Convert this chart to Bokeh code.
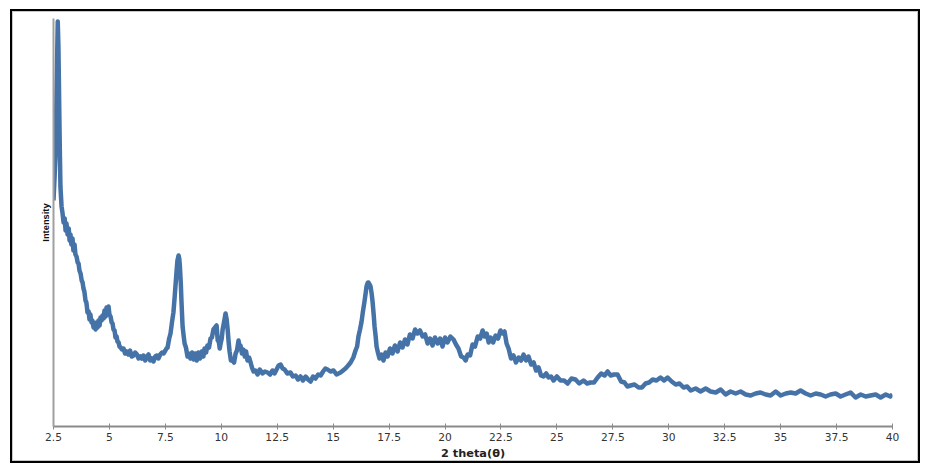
from bokeh.plotting import figure
from bokeh.models import FixedTicker
from bokeh.embed import file_html
from bokeh.resources import INLINE

two_theta = [
    2.50, 2.55, 2.59, 2.64, 2.69, 2.72, 2.75, 2.78, 2.81, 2.86, 2.90, 2.95, 3.00, 3.04, 3.08, 3.13,
    3.18, 3.22, 3.26, 3.30, 3.35, 3.39, 3.44, 3.48, 3.53, 3.58, 3.62, 3.66, 3.71, 3.76, 3.80, 3.84,
    3.88, 3.93, 3.97, 4.02, 4.07, 4.11, 4.15, 4.20, 4.24, 4.29, 4.33, 4.38, 4.42, 4.47, 4.51, 4.56,
    4.60, 4.65, 4.69, 4.74, 4.78, 4.83, 4.87, 4.91, 4.96, 5.00, 5.05, 5.10, 5.14, 5.18, 5.23, 5.27,
    5.32, 5.36, 5.41, 5.45, 5.50, 5.56, 5.63, 5.70, 5.77, 5.85, 5.92, 6.00, 6.08, 6.15, 6.23, 6.30,
    6.38, 6.45, 6.52, 6.60, 6.68, 6.75, 6.82, 6.90, 6.97, 7.05, 7.12, 7.19, 7.27, 7.35, 7.42, 7.50,
    7.55, 7.60, 7.67, 7.73, 7.80, 7.86, 7.91, 7.95, 8.00, 8.04, 8.09, 8.12, 8.15, 8.19, 8.22, 8.27,
    8.31, 8.36, 8.42, 8.49, 8.55, 8.62, 8.69, 8.76, 8.83, 8.90, 8.97, 9.05, 9.12, 9.20, 9.25, 9.32,
    9.38, 9.45, 9.52, 9.58, 9.65, 9.72, 9.79, 9.84, 9.88, 9.93, 9.97, 10.02, 10.06, 10.12, 10.19, 10.24,
    10.28, 10.33, 10.37, 10.43, 10.50, 10.57, 10.64, 10.70, 10.77, 10.82, 10.86, 10.92, 10.99, 11.05, 11.11, 11.17,
    11.24, 11.31, 11.37, 11.44, 11.52, 11.62, 11.72, 11.84, 11.95, 12.07, 12.18, 12.29, 12.38, 12.47, 12.56, 12.65,
    12.74, 12.83, 12.95, 13.09, 13.20, 13.32, 13.43, 13.54, 13.65, 13.77, 13.88, 13.99, 14.10, 14.21, 14.33, 14.44,
    14.55, 14.65, 14.75, 14.88, 15.02, 15.15, 15.33, 15.44, 15.55, 15.67, 15.78, 15.90, 16.00, 16.07, 16.13, 16.20,
    16.27, 16.33, 16.40, 16.45, 16.49, 16.55, 16.58, 16.63, 16.67, 16.72, 16.76, 16.81, 16.85, 16.90, 16.94, 17.00,
    17.07, 17.16, 17.25, 17.34, 17.43, 17.54, 17.65, 17.76, 17.88, 17.99, 18.10, 18.21, 18.32, 18.43, 18.55, 18.66,
    18.77, 18.88, 19.00, 19.11, 19.22, 19.33, 19.44, 19.55, 19.67, 19.78, 19.89, 20.00, 20.11, 20.24, 20.38, 20.49,
    20.60, 20.72, 20.83, 20.92, 21.01, 21.12, 21.23, 21.34, 21.46, 21.57, 21.68, 21.77, 21.86, 21.95, 22.04, 22.15,
    22.26, 22.37, 22.48, 22.57, 22.66, 22.75, 22.84, 22.95, 23.06, 23.17, 23.29, 23.40, 23.51, 23.62, 23.73, 23.85,
    23.96, 24.07, 24.18, 24.29, 24.40, 24.52, 24.63, 24.74, 24.85, 25.00, 25.16, 25.32, 25.48, 25.65, 25.83, 26.00,
    26.19, 26.35, 26.50, 26.66, 26.82, 26.98, 27.13, 27.27, 27.40, 27.55, 27.71, 27.87, 28.02, 28.15, 28.29, 28.47,
    28.65, 28.80, 28.96, 29.12, 29.28, 29.45, 29.63, 29.79, 29.95, 30.13, 30.31, 30.48, 30.66, 30.82, 30.98, 31.20,
    31.42, 31.65, 31.87, 32.10, 32.32, 32.54, 32.76, 32.99, 33.21, 33.44, 33.66, 33.88, 34.10, 34.33, 34.55, 34.78,
    35.00, 35.23, 35.45, 35.67, 35.89, 36.12, 36.34, 36.57, 36.79, 37.01, 37.23, 37.46, 37.68, 37.90, 38.13, 38.35,
    38.58, 38.80, 39.02, 39.25, 39.47, 39.70, 39.90, 40.00,
]

intensity = [
    226, 250, 273, 340, 405, 380, 330, 280, 240, 220, 214, 204, 208, 196, 203, 192,
    198, 186, 192, 182, 188, 176, 182, 172, 170, 164, 163, 156, 153, 146, 144, 138,
    135, 126, 124, 114, 115, 107, 112, 104, 106, 99, 101, 97, 104, 99, 106, 101,
    109, 106, 111, 108, 116, 110, 119, 115, 120, 112, 110, 104, 103, 97, 96, 89,
    90, 85, 84, 80, 79, 77, 78, 73, 75, 72, 76, 70, 71, 74, 72, 68,
    70, 68, 71, 66, 70, 72, 66, 68, 65, 70, 71, 68, 72, 74, 73, 76,
    78, 79, 88, 93, 105, 114, 128, 140, 155, 166, 171, 168, 160, 143, 125, 100,
    92, 83, 79, 70, 73, 68, 74, 67, 73, 66, 74, 68, 75, 70, 78, 74,
    81, 79, 88, 89, 97, 99, 101, 86, 86, 78, 83, 88, 97, 104, 113, 107,
    98, 84, 75, 66, 66, 64, 73, 76, 86, 79, 81, 73, 77, 70, 75, 66,
    69, 64, 59, 55, 56, 52, 57, 53, 55, 54, 52, 56, 53, 57, 61, 62,
    58, 57, 53, 54, 50, 51, 47, 50, 46, 50, 47, 45, 50, 48, 52, 51,
    55, 58, 57, 55, 56, 52, 54, 56, 58, 61, 64, 69, 76, 80, 90, 97,
    105, 115, 125, 133, 140, 144, 144, 142, 140, 133, 125, 112, 100, 90, 80, 74,
    68, 72, 66, 74, 70, 78, 73, 81, 75, 84, 79, 87, 82, 92, 88, 97,
    93, 96, 90, 92, 83, 88, 81, 89, 83, 88, 80, 89, 84, 90, 87, 82,
    78, 70, 69, 66, 72, 71, 82, 80, 90, 88, 96, 90, 93, 84, 89, 84,
    91, 88, 96, 93, 95, 83, 78, 68, 71, 64, 69, 66, 72, 66, 70, 62,
    64, 56, 59, 51, 50, 53, 49, 50, 46, 50, 46, 46, 43, 48, 47, 43,
    46, 43, 44, 44, 49, 53, 51, 55, 51, 52, 52, 45, 44, 40, 41, 42,
    39, 39, 43, 44, 47, 46, 49, 46, 49, 45, 42, 43, 39, 40, 36, 38,
    35, 38, 35, 34, 37, 32, 35, 33, 35, 32, 31, 33, 34, 32, 31, 35,
    31, 33, 34, 33, 36, 33, 31, 33, 32, 30, 32, 33, 30, 32, 34, 29,
    32, 30, 31, 32, 29, 32, 30, 32,
]

tick_values = [2.5, 5, 7.5, 10, 12.5, 15, 17.5, 20, 22.5, 25, 27.5, 30, 32.5, 35, 37.5, 40]
tick_labels = ["2.5", "5", "7.5", "10", "12.5", "15", "17.5", "20", "22.5", "25",
               "27.5", "30", "32.5", "35", "37.5", "40"]

p = figure(width=906, height=450, output_backend="svg", toolbar_location=None,
           x_range=(2.5, 40), y_range=(0, 408),
           min_border_left=40, min_border_right=27, min_border_top=6, min_border_bottom=36)
p.styles = {"margin-left": "12px", "margin-top": "11px",
            "border": "1px solid #c8c8c8", "outline": "2px solid black"}
p.background_fill_color = "white"
p.border_fill_color = "white"
p.outline_line_color = None
p.grid.visible = False

p.line(two_theta, intensity, line_color="#4572A7", line_width=4.5, line_join="round")

xa = p.xaxis[0]
xa.ticker = FixedTicker(ticks=tick_values)
xa.major_label_overrides = {v: s for v, s in zip(tick_values, tick_labels)}
xa.axis_label = "2 theta(θ)"
xa.axis_label_text_font = "DejaVu Sans"
xa.axis_label_text_font_size = "8.5pt"
xa.axis_label_text_font_style = "bold"
xa.axis_label_text_color = "#222222"
xa.axis_label_standoff = 2
xa.major_label_text_font = "DejaVu Sans"
xa.major_label_text_font_size = "8pt"
xa.major_label_text_color = "#333333"
xa.major_label_standoff = 3
xa.axis_line_color = "#8a8a8a"
xa.axis_line_width = 2
xa.major_tick_line_color = "#8a8a8a"
xa.major_tick_in = 3
xa.major_tick_out = 3
xa.minor_tick_line_color = None

ya = p.yaxis[0]
ya.ticker = FixedTicker(ticks=[])
ya.axis_label = "Intensity"
ya.axis_label_text_font = "Liberation Sans"
ya.axis_label_text_font_size = "7pt"
ya.axis_label_text_font_style = "bold"
ya.axis_label_text_color = "#111111"
ya.axis_label_standoff = 3
ya.axis_line_color = "#a0a0a0"
ya.axis_line_width = 2
ya.major_tick_line_color = None
ya.minor_tick_line_color = None

open("out.html", "w").write(file_html(p, INLINE))
